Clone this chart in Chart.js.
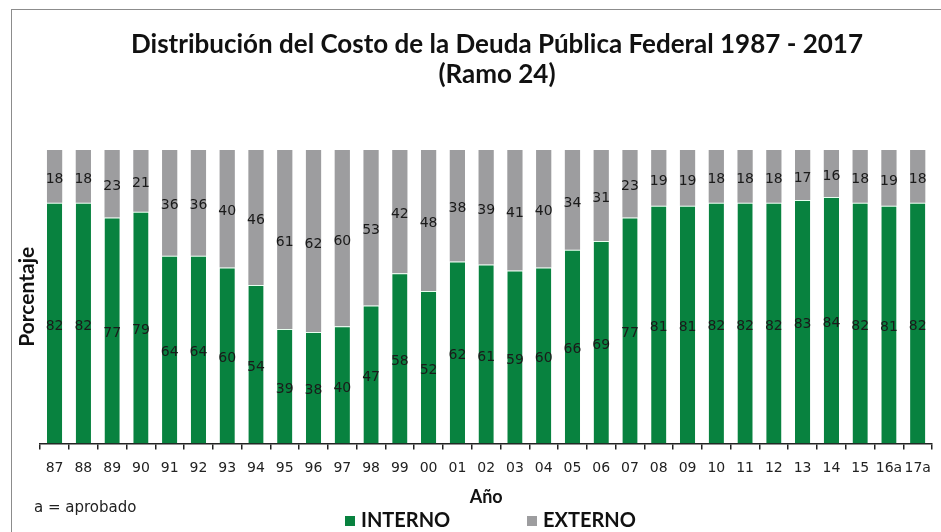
<!DOCTYPE html>
<html>
<head>
<meta charset="utf-8">
<script src="https://cdn.jsdelivr.net/npm/chart.js@4.4.1/dist/chart.umd.min.js"></script>
<style>
    html, body { margin: 0; padding: 0; background: #ffffff; }
    #wrap { width: 941px; height: 532px; position: relative; }
</style>
</head>
<body>
<div id="wrap"><canvas id="chart"></canvas></div>
<script>
// años (a = aprobado)
const years = ["87", "88", "89", "90", "91", "92", "93", "94", "95", "96", "97", "98", "99", "00", "01",
    "02", "03", "04", "05", "06", "07", "08", "09", "10", "11", "12", "13", "14", "15", "16a", "17a"];

// porcentaje del costo
const interno = [82, 82, 77, 79, 64, 64, 60, 54, 39, 38, 40, 47, 58, 52, 62,
    61, 59, 60, 66, 69, 77, 81, 81, 82, 82, 82, 83, 84, 82, 81, 82];
const externo = [18, 18, 23, 21, 36, 36, 40, 46, 61, 62, 60, 53, 42, 48, 38,
    39, 41, 40, 34, 31, 23, 19, 19, 18, 18, 18, 17, 16, 18, 19, 18];

const titleLines = ['Distribución del Costo de la Deuda Pública Federal 1987 - 2017', '(Ramo 24)'];

const GREEN = '#08823f';
const GRAY = '#9d9d9f';

// frame, title, note, legend and the numbers inside the bars
const extras = {
    id: 'extras',
    beforeDraw(chart) {
        let ctx = chart.ctx;
        ctx.save();
        ctx.strokeStyle = '#8c8c8c';
        ctx.lineWidth = 1;
        ctx.strokeRect(11.5, 9.5, 960, 560);

        ctx.font = 'bold 26px Lato';
        ctx.fillStyle = '#111';
        ctx.textAlign = 'center';
        ctx.textBaseline = 'middle';
        ctx.fillText(titleLines[0], 497, 45);
        ctx.fillText(titleLines[1], 497, 75);
        ctx.restore();
    },
    afterDatasetsDraw(chart) {
        let ctx = chart.ctx;
        ctx.save();
        ctx.font = '14px "DejaVu Sans"';
        ctx.fillStyle = '#1a1a1a';
        ctx.textAlign = 'center';
        ctx.textBaseline = 'middle';
        chart.data.datasets.forEach((ds, d) => {
            let meta = chart.getDatasetMeta(d);
            meta.data.forEach((bar, i) => {
                let yMid = (bar.y + bar.base) / 2 + 3;
                ctx.fillText(String(ds.data[i]), bar.x, yMid);
            });
        });

        ctx.font = '15px "DejaVu Sans"';
        ctx.textAlign = 'left';
        ctx.fillStyle = '#222';
        ctx.fillText('a = aprobado', 34, 508);

        // legend
        let legendX = [345, 527];
        ctx.font = 'bold 20px Lato';
        chart.data.datasets.forEach((ds, d) => {
            ctx.fillStyle = ds.backgroundColor;
            ctx.fillRect(legendX[d], 516, 10, 10);
            ctx.fillStyle = '#111';
            ctx.fillText(ds.label, legendX[d] + 16, 521);
        });
        ctx.restore();
    }
};

new Chart(document.getElementById('chart'), {
    type: 'bar',
    data: {
        labels: years,
        datasets: [
            {
                label: 'INTERNO',
                data: interno,
                backgroundColor: GREEN,
                borderColor: '#e8fff0',
                borderWidth: { top: 1, bottom: 0, left: 0, right: 0 },
                borderSkipped: false,
                barPercentage: 0.53,
                categoryPercentage: 1
            },
            {
                label: 'EXTERNO',
                data: externo,
                backgroundColor: GRAY,
                borderWidth: 0,
                barPercentage: 0.53,
                categoryPercentage: 1
            }
        ]
    },
    options: {
        responsive: true,
        maintainAspectRatio: false,
        animation: false,
        layout: { padding: { left: 11, right: 6, top: 150, bottom: 24 } },
        scales: {
            x: {
                stacked: true,
                border: { display: true, color: '#222', width: 1.5 },
                grid: { display: true, drawOnChartArea: false, drawTicks: true, tickLength: 6, color: '#222', lineWidth: 1.5 },
                ticks: { color: '#222', font: { family: 'DejaVu Sans', size: 14 }, maxRotation: 0, autoSkip: false, padding: 10 },
                title: { display: true, text: 'Año', color: '#111', font: { family: 'Lato', size: 18, weight: 'bold' }, padding: { top: 0, bottom: 0 } }
            },
            y: {
                stacked: true,
                min: 0,
                max: 100,
                border: { display: false },
                grid: { display: false, drawTicks: false },
                ticks: { display: false, padding: 0 },
                title: { display: true, text: 'Porcentaje', color: '#111', font: { family: 'Lato', size: 21, weight: 'bold' }, padding: { top: 4, bottom: 0 } }
            }
        },
        plugins: {
            title: { display: false },
            legend: { display: false },
            tooltip: { enabled: false }
        }
    },
    plugins: [extras]
});
</script>
</body>
</html>
